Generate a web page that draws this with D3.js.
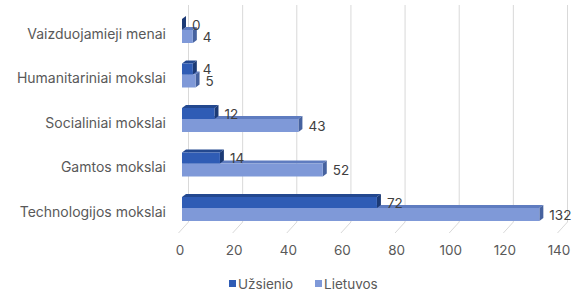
<!DOCTYPE html>
<html><head><meta charset="utf-8">
<script src="https://cdn.jsdelivr.net/npm/d3@7"></script>
<style>html,body{margin:0;padding:0;background:#fff;}svg{display:block;font-family:Inter,"Noto Sans",sans-serif;}</style>
</head><body><svg id="c" width="577" height="293"></svg>
<script>
const categories = ["Vaizduojamieji menai","Humanitariniai mokslai","Socialiniai mokslai","Gamtos mokslai","Technologijos mokslai"];
const uzsienio = [0,4,12,14,72];
const lietuvos = [4,5,43,52,132];
const ticks = [0,20,40,60,80,100,120,140];
const seriesNames = ["Užsienio","Lietuvos"];
const colors = {dark:{front:"#2f5cb5",top:"#23488f",side:"#1c3a75"}, light:{front:"#7f99d8",top:"#5f7cc0",side:"#46629f"}};

const svg = d3.select("#c");
const x = d3.scaleLinear().domain([0,140]).range([182,561]);
const y = d3.scalePoint().domain(categories).range([30,208]);
const dx = 4, dy = 3;

// grid
const g = svg.append("g");
ticks.forEach(t=>{
  const xb = x(t)+6.5, xf = x(t)-3.5;
  g.append("line").attr("x1",xb).attr("x2",xb).attr("y1",5).attr("y2",222).attr("stroke","#d9d9d9").attr("stroke-width",1);
  g.append("line").attr("x1",xf).attr("x2",xb).attr("y1",233).attr("y2",222).attr("stroke","#d9d9d9").attr("stroke-width",1);
});
// tick labels
svg.append("g").selectAll("text").data(ticks).join("text")
  .attr("x",d=>x(d)-2).attr("y",250).attr("dy","0.35em").attr("text-anchor","middle")
  .attr("font-size",13.5).attr("fill","#595959").text(d=>d);
// category labels
svg.append("g").selectAll("text").data(categories).join("text")
  .attr("x",166).attr("y",d=>y(d)+4).attr("dy","0.35em").attr("text-anchor","end")
  .attr("font-size",14).attr("fill","#595959").text(d=>d);

function bar(v, top, h, c){
  const x0 = x(0), x1 = x(v);
  const bg = svg.append("g");
  bg.append("path").attr("d",`M${x0},${top}L${x0+dx},${top-dy}L${x1+dx},${top-dy}L${x1},${top}Z`).attr("fill",c.top);
  bg.append("path").attr("d",`M${x1},${top}L${x1+dx},${top-dy}L${x1+dx},${top+h-dy}L${x1},${top+h}Z`).attr("fill",c.side);
  bg.append("rect").attr("x",x0).attr("y",top).attr("width",Math.max(0,x1-x0)).attr("height",h).attr("fill",c.front);
}
categories.forEach((cat,i)=>{
  const c = y(cat);
  bar(lietuvos[i], c, 13, colors.light);
  bar(uzsienio[i], c-11, 11, colors.dark);
});
// value labels
categories.forEach((cat,i)=>{
  const c = y(cat);
  svg.append("text").attr("x",x(uzsienio[i])+dx+6).attr("y",c-5).attr("dy","0.35em")
    .attr("font-size",13.5).attr("fill","#404040").text(uzsienio[i]);
  svg.append("text").attr("x",x(lietuvos[i])+dx+6).attr("y",c+7).attr("dy","0.35em")
    .attr("font-size",13.5).attr("fill","#404040").text(lietuvos[i]);
});
// legend
const leg = svg.append("g");
const lx = [229, 315];
seriesNames.forEach((n,i)=>{
  leg.append("rect").attr("x",lx[i]).attr("y",280).attr("width",7).attr("height",7).attr("fill",i===0?colors.dark.front:colors.light.front);
  leg.append("text").attr("x",lx[i]+9).attr("y",284).attr("dy","0.35em").attr("font-size",13.5).attr("fill","#595959").text(n);
});
</script></body></html>
